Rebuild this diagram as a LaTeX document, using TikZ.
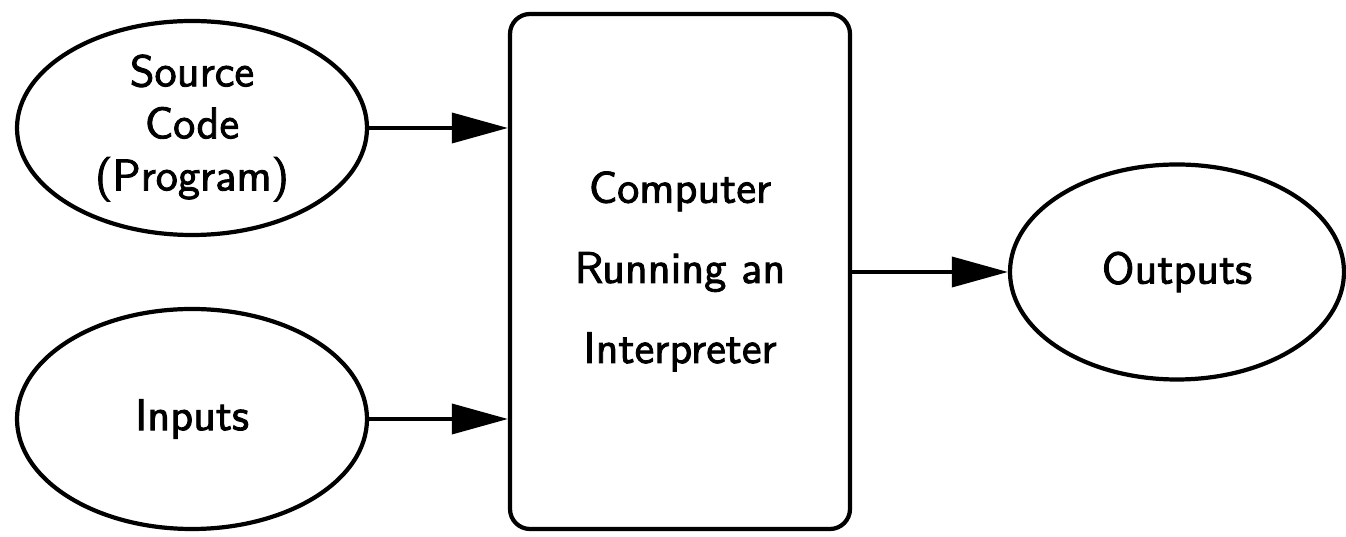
\documentclass[tikz,border=0pt]{standalone}
\usepackage{fontspec}
\usepackage{tikz}
\usetikzlibrary{arrows.meta,shapes.geometric}
\newfontfamily\labelsans{lmsans10-regular.otf}[FakeBold=2]

\tikzset{
	blob/.style={draw=black, line width=3pt, ellipse, inner sep=0pt, align=center,
		font=\labelsans\fontsize{31.5}{37}\selectfont},
	machine/.style={draw=black, line width=3pt, rounded corners=0.5cm, inner sep=0pt, align=center,
		minimum width=8.5cm, minimum height=12.875cm,
		font=\labelsans\fontsize{31.5}{57}\selectfont},
	feed/.style={draw=black, line width=2.6pt, -{Triangle[length=1.4cm, width=0.75cm]}}
}

\begin{document}
\begin{tikzpicture}
			\useasboundingbox (0,0) rectangle (33.65,13.425);
			\node[blob, minimum width=8.75cm, minimum height=5.35cm] (src) at (4.8,10.225) {Source\\Code\\(Program)};
			\node[blob, minimum width=8.75cm, minimum height=5.5cm] (inp) at (4.8,2.95) {Inputs};
			\node[machine] (cpu) at (17.0,6.6375) {Computer\\Running an\\Interpreter};
			\node[blob, minimum width=8.35cm, minimum height=5.375cm] (out) at (29.425,6.625) {Outputs};
			\draw[feed] (src.east) -- (src.east -| cpu.west);
			\draw[feed] (inp.east) -- (inp.east -| cpu.west);
			\draw[feed] (cpu.east |- out.west) -- (out.west);
		\end{tikzpicture}
\end{document}
